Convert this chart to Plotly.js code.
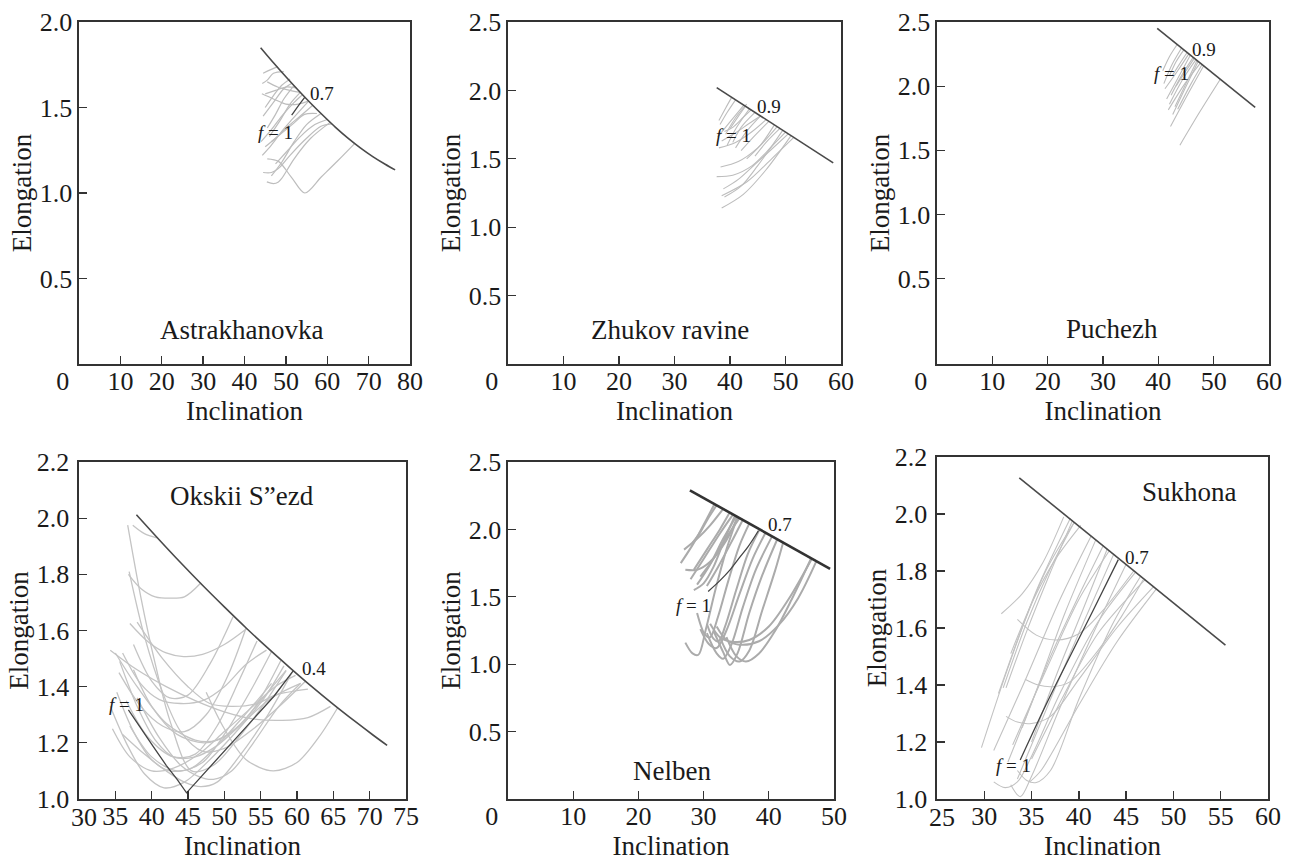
<!DOCTYPE html>
<html>
<head>
<meta charset="utf-8">
<script src="https://cdn.plot.ly/plotly-3.0.1.min.js"></script>
<style>html,body{margin:0;padding:0;background:#fff;}#chart{width:1292px;height:863px;}</style>
</head>
<body>
<div id="chart"></div>
<script>
// ---------------- DATA ----------------
const panelNames = ['Astrakhanovka', 'Zhukov ravine', 'Puchezh', 'Okskii S\u201Dezd', 'Nelben', 'Sukhona'];
const envLabels = ['0.7', '0.9', '0.9', '0.4', '0.7', '0.7'];

// Astrakhanovka
const astraEnvX = [43.9, 47, 50, 53, 56, 59, 62, 65, 68, 71, 74, 76.4];
const astraEnvY = [1.85, 1.762, 1.680, 1.601, 1.525, 1.453, 1.384, 1.321, 1.264, 1.213, 1.168, 1.135];
const astraCurvesX = [
  [44.5, 46.2, 48.0], [45, 47.5, 50, 52.5], [44.5, 47, 49.5, 51.5], [45.5, 47.5, 49.5, 52],
  [44, 46.5, 49, 52, 54], [46, 48.5, 51, 53.5], [44.3, 46.5, 49, 51.5, 55.5], [45, 47.5, 50.5, 53.5, 56.5],
  [46.5, 49, 52, 54.5, 57.5], [44.2, 47, 50, 53, 55.5], [45.5, 48, 51, 53.5],
  [44.5, 46.5, 48.5, 51, 55, 58.5, 61.1], [45.4, 47.0, 48.2, 49.0, 52, 56, 60.7],
  [45.5, 48.2, 51.4, 54.6, 58.6, 62.6, 66.6], [46.5, 49, 52, 55, 58.5], [47.5, 50.5, 53.5, 57, 60],
  [45, 47, 49, 51], [44.3, 45.5, 47, 49.5]
];
const astraCurvesY = [
  [1.70, 1.72, 1.739], [1.58, 1.60, 1.62, 1.614], [1.45, 1.53, 1.61, 1.642], [1.38, 1.46, 1.55, 1.63],
  [1.30, 1.37, 1.45, 1.53, 1.575], [1.33, 1.42, 1.52, 1.588], [1.22, 1.28, 1.36, 1.43, 1.537], [1.27, 1.32, 1.39, 1.45, 1.513],
  [1.30, 1.35, 1.41, 1.46, 1.465], [1.58, 1.55, 1.52, 1.52, 1.537], [1.65, 1.62, 1.60, 1.588],
  [1.12, 1.12, 1.15, 1.22, 1.32, 1.39, 1.404], [1.065, 1.055, 1.065, 1.085, 1.20, 1.32, 1.413],
  [1.20, 1.185, 1.09, 1.0, 1.095, 1.19, 1.289], [1.10, 1.18, 1.30, 1.40, 1.465], [1.17, 1.25, 1.33, 1.40, 1.43],
  [1.50, 1.57, 1.63, 1.667], [1.64, 1.66, 1.70, 1.71]
];
const astraDarkX = [51.4, 53, 54.6];
const astraDarkY = [1.455, 1.51, 1.561];

// Zhukov ravine
const zhukEnvX = [37.6, 58.6];
const zhukEnvY = [2.02, 1.47];
const zhukCurvesX = [
  [38.5, 42.4, 46.5, 51.0], [38.5, 43, 47.5, 51.5], [37.6, 40.5, 44, 47.5, 50.0], [38.3, 41.5, 45, 48.5],
  [39.0, 42, 45, 49.5], [38.0, 41, 44, 46.5], [38.5, 41, 43.5, 45.5], [37.8, 40, 42.5],
  [38.2, 39.5, 41], [38.0, 39.2, 40.3], [39.5, 41.2, 43.5], [40.5, 42, 44.5],
  [41, 43, 45.5], [42, 44, 47], [39, 40.5, 42.3, 43.8], [43, 45.5, 48], [38.8, 41.5, 44.5, 47.5, 50.5],
  [40, 41.5, 42.8], [39.2, 41, 43], [44.5, 46.5, 49]
];
const zhukCurvesY = [
  [1.14, 1.24, 1.42, 1.669], [1.23, 1.33, 1.50, 1.656], [1.37, 1.38, 1.45, 1.59, 1.695], [1.44, 1.48, 1.58, 1.735],
  [1.22, 1.30, 1.45, 1.708], [1.58, 1.62, 1.70, 1.787], [1.63, 1.69, 1.76, 1.813], [1.66, 1.77, 1.892],
  [1.75, 1.84, 1.931], [1.78, 1.87, 1.949], [1.60, 1.73, 1.866], [1.62, 1.73, 1.839],
  [1.58, 1.70, 1.813], [1.56, 1.65, 1.774], [1.70, 1.73, 1.80, 1.858], [1.50, 1.60, 1.748], [1.28, 1.35, 1.46, 1.57, 1.682],
  [1.72, 1.81, 1.884], [1.68, 1.80, 1.90], [1.52, 1.62, 1.722]
];
const zhukDarkX = [];
const zhukDarkY = [];

// Puchezh
const puchEnvX = [39.8, 57.5];
const puchEnvY = [2.45, 1.835];
const puchCurvesX = [
  [43.9, 47.5, 51.2], [42.2, 45.5, 48.2], [41.8, 44.8, 47.6], [42.0, 44.5, 46.8], [41.2, 43.5, 45.5],
  [42.3, 44.3, 46.3], [41.0, 42.5, 44.2], [43, 45, 47], [42.6, 44.8, 47.2], [43.5, 45.8, 47.9],
  [42.0, 43.2, 44.6], [40.8, 42.0, 43.4], [43.2, 45, 46.5], [42.5, 43.8, 45.2], [41.5, 43.5, 45.8]
];
const puchCurvesY = [
  [1.54, 1.80, 2.054], [1.685, 1.95, 2.159], [1.815, 2.02, 2.18], [1.86, 2.06, 2.207], [1.98, 2.12, 2.252],
  [1.93, 2.09, 2.224], [2.02, 2.17, 2.297], [1.84, 2.02, 2.20], [1.78, 1.98, 2.193], [1.82, 2.01, 2.169],
  [2.08, 2.19, 2.283], [2.12, 2.23, 2.325], [2.0, 2.12, 2.217], [2.08, 2.17, 2.262], [1.90, 2.06, 2.243]
];
const puchDarkX = [];
const puchDarkY = [];

// Okskii S"ezd
const oksEnvX = [37.9, 41, 44, 47, 50, 53, 56, 59, 62, 65, 68, 70.5, 72.4];
const oksEnvY = [2.012, 1.924, 1.841, 1.761, 1.684, 1.609, 1.537, 1.468, 1.401, 1.337, 1.276, 1.227, 1.191];
const oksCurvesX = [
  [37.4, 39.0, 40.7],
  [36.8, 38.5, 40.5, 42.5, 44.5, 46.8],
  [37.0, 39.5, 42, 44.4, 47, 50, 53.1],
  [36.7, 38.5, 40.5, 42.5, 45.5, 48.5, 52, 55.5, 58.5],
  [36.9, 39, 41.5, 44, 47, 50, 54, 58, 61.2],
  [34.3, 38, 42, 46, 50, 54, 58, 61.5, 64.6],
  [47.5, 50, 53, 56.7, 60, 63, 65.6],
  [34.3, 36.5, 39, 41.7, 44.5, 48, 52, 55.5, 58.2],
  [34.6, 37, 40, 43, 46.5, 50, 53.5, 57, 59.8],
  [35.6, 38, 40.5, 43, 46, 49, 52.5, 56.5, 60.5],
  [35, 38, 42, 46, 49, 52, 55, 58.5],
  [37.5, 40, 43.5, 47.3, 50.5, 54, 57.8],
  [35.2, 37.5, 40, 42.5, 45.5, 49, 52.5, 56.5],
  [36, 39, 42, 44.5, 46.8, 49, 52, 56, 59.3],
  [38, 41, 44, 46.5, 48.5, 51, 54, 57.5, 60.5],
  [36, 38.5, 41, 44, 47, 50, 53, 55.8],
  [38, 41.5, 45, 48, 51, 54.5, 57, 61.5],
  [37.5, 40, 42.5, 45, 48, 51.2],
  [35.5, 38.5, 41.5, 44.5, 47.5, 50.5, 53.0],
  [36.5, 39.5, 43, 46, 49, 52, 54.5],
  [37, 40, 43.5, 47, 50, 53.5, 56.5]
];
const oksCurvesY = [
  [1.975, 1.945, 1.93],
  [1.80, 1.75, 1.72, 1.715, 1.72, 1.770],
  [1.625, 1.56, 1.52, 1.507, 1.515, 1.55, 1.607],
  [1.975, 1.72, 1.48, 1.28, 1.10, 1.12, 1.22, 1.34, 1.457],
  [1.81, 1.58, 1.38, 1.24, 1.17, 1.18, 1.25, 1.34, 1.42],
  [1.53, 1.46, 1.40, 1.35, 1.31, 1.285, 1.28, 1.29, 1.33],
  [1.38, 1.25, 1.14, 1.10, 1.13, 1.22, 1.325],
  [1.33, 1.20, 1.09, 1.04, 1.06, 1.14, 1.25, 1.36, 1.474],
  [1.25, 1.15, 1.10, 1.11, 1.16, 1.24, 1.32, 1.40, 1.44],
  [1.49, 1.33, 1.21, 1.15, 1.15, 1.19, 1.27, 1.36, 1.412],
  [1.52, 1.40, 1.27, 1.21, 1.21, 1.26, 1.35, 1.458],
  [1.46, 1.33, 1.23, 1.20, 1.23, 1.32, 1.494],
  [1.38, 1.24, 1.14, 1.10, 1.11, 1.19, 1.29, 1.412],
  [1.23, 1.16, 1.10, 1.06, 1.044, 1.06, 1.15, 1.30, 1.45],
  [1.36, 1.22, 1.12, 1.08, 1.07, 1.10, 1.20, 1.33, 1.412],
  [1.52, 1.41, 1.355, 1.34, 1.35, 1.40, 1.48, 1.53],
  [1.63, 1.50, 1.40, 1.34, 1.33, 1.34, 1.37, 1.391],
  [1.55, 1.42, 1.36, 1.37, 1.48, 1.649],
  [1.45, 1.33, 1.26, 1.24, 1.30, 1.44, 1.610],
  [1.35, 1.22, 1.15, 1.16, 1.26, 1.42, 1.563],
  [1.26, 1.15, 1.10, 1.13, 1.23, 1.38, 1.525]
];
const oksDarkX = [36.8, 38.5, 40.2, 42, 43.5, 44.8, 48.5, 53.1, 56.8, 59.5];
const oksDarkY = [1.317, 1.25, 1.187, 1.12, 1.07, 1.022, 1.127, 1.258, 1.365, 1.457];

// Nelben
const nelEnvX = [27.9, 49.4];
const nelEnvY = [2.29, 1.707];
const nelCurvesX = [
  [26.5, 28.5, 30.5, 31.7], [27.0, 29.0, 31.0, 33.0], [28.0, 30.0, 32.5, 34.5], [28.5, 30.5, 32.5, 34.0],
  [29.0, 31.0, 33.0, 35.0], [29.5, 31.5, 33.5, 35.5], [28.3, 29.5, 30.8, 32.0], [30.5, 32.2, 34.2, 36.0],
  [27.2, 28.3, 29.2, 30.3, 31.8, 33.5, 35.2], [29.0, 30.2, 31.0, 32.2, 33.8, 35.5, 37.0],
  [30.5, 31.5, 32.3, 33.3, 35.0, 36.8, 38.6], [29.5, 30.8, 32, 33.5, 35.5, 37.5, 39.5],
  [30.5, 32, 33, 34.3, 36, 38, 40.5], [31.5, 33, 34.05, 35.2, 37, 39, 41.3],
  [32.5, 34, 35.5, 37, 39, 41, 42.2], [31.0, 32.5, 34.3, 37, 40, 43, 46.6],
  [32.0, 33.5, 35.5, 38.5, 41.5, 44.5, 47.3], [33.5, 35, 36.5, 38.5, 41, 43.5, 46.5],
  [27.2, 29.0, 31.0, 33.5, 35.2], [28.5, 30.0, 31.5, 33.0, 34.8]
];
const nelCurvesY = [
  [1.75, 1.90, 2.08, 2.19], [1.85, 1.93, 2.03, 2.152], [1.63, 1.78, 1.97, 2.11], [1.70, 1.85, 2.00, 2.125],
  [1.59, 1.74, 1.93, 2.098], [1.65, 1.78, 1.94, 2.084], [1.90, 1.98, 2.09, 2.179], [1.58, 1.72, 1.90, 2.07],
  [1.16, 1.08, 1.07, 1.25, 1.55, 1.85, 2.092], [1.38, 1.22, 1.20, 1.35, 1.62, 1.88, 2.043],
  [1.30, 1.19, 1.17, 1.28, 1.55, 1.82, 2.0], [1.26, 1.15, 1.12, 1.25, 1.52, 1.78, 1.975],
  [1.23, 1.08, 1.04, 1.15, 1.42, 1.70, 1.948], [1.25, 1.09, 0.994, 1.08, 1.38, 1.66, 1.927],
  [1.20, 1.06, 1.02, 1.10, 1.40, 1.70, 1.903], [1.30, 1.20, 1.167, 1.18, 1.28, 1.48, 1.783],
  [1.28, 1.18, 1.145, 1.17, 1.29, 1.49, 1.764], [1.20, 1.06, 1.02, 1.08, 1.25, 1.48, 1.786],
  [1.70, 1.70, 1.76, 1.92, 2.09], [1.55, 1.60, 1.72, 1.90, 2.10]
];
const nelDarkX = [30.7, 32.5, 34.05, 35.5, 36.8, 38.4];
const nelDarkY = [1.54, 1.62, 1.70, 1.79, 1.87, 1.99];

// Sukhona
const sukEnvX = [33.7, 55.5];
const sukEnvY = [2.127, 1.54];
const sukCurvesX = [
  [31.8, 34, 36.2, 38.4], [33.5, 35.5, 37.6, 40, 42.5, 45.8], [34.3, 35.7, 37.2, 39, 42, 44.5, 46.8],
  [32.3, 33.5, 35.0, 37, 40, 44, 47.9], [29.7, 32.5, 35.5, 39.1], [31.5, 34, 36.5, 39.5],
  [32.0, 34.5, 37, 39.5], [32.8, 35.2, 37.5, 40.2], [31.0, 34.5, 38, 41.3], [32.5, 35.5, 38.5, 41.8],
  [33.0, 36.5, 40, 43.2], [33.5, 37, 40.5, 43.7], [32.8, 33.8, 35, 38, 41.5, 45],
  [33.5, 34.5, 35.5, 37, 40, 43.5, 46.5], [31.0, 32.2, 33.5, 35, 38, 42, 46],
  [35, 38.5, 42, 47], [34.8, 36, 40, 44, 48.2], [32.3, 34.5, 36.8, 39.3],
  [34.0, 37, 39.8, 42.6], [35.0, 37.8, 40.5, 43.0]
];
const sukCurvesY = [
  [1.65, 1.72, 1.83, 1.99], [1.63, 1.575, 1.558, 1.58, 1.66, 1.80], [1.42, 1.40, 1.394, 1.41, 1.52, 1.64, 1.769],
  [1.29, 1.27, 1.265, 1.29, 1.42, 1.60, 1.745], [1.18, 1.46, 1.73, 1.985], [1.37, 1.60, 1.80, 1.97],
  [1.39, 1.62, 1.81, 1.97], [1.51, 1.70, 1.84, 1.96], [1.17, 1.43, 1.70, 1.923], [1.13, 1.38, 1.65, 1.91],
  [1.19, 1.45, 1.70, 1.87], [1.07, 1.35, 1.62, 1.86], [1.05, 1.008, 1.08, 1.32, 1.58, 1.824],
  [1.10, 1.065, 1.058, 1.10, 1.35, 1.61, 1.78], [1.06, 1.04, 1.06, 1.15, 1.37, 1.62, 1.796],
  [1.14, 1.37, 1.58, 1.77], [1.06, 1.10, 1.33, 1.55, 1.737], [1.39, 1.59, 1.78, 1.975],
  [1.25, 1.50, 1.70, 1.89], [1.20, 1.45, 1.67, 1.877]
];
const sukDarkX = [33.8, 36.6, 39.06, 41.53, 44.17];
const sukDarkY = [1.137, 1.336, 1.50, 1.663, 1.84];

// Axis ranges and ticks
const xRanges = [[0, 80], [0, 60], [0, 60], [30, 75], [0, 50], [25, 60]];
const yRanges = [[0, 2.0], [0, 2.5], [-0.165, 2.5], [1.0, 2.2], [0, 2.5], [1.0, 2.2]];
const xTicks = [
  [0, 10, 20, 30, 40, 50, 60, 70, 80], [0, 10, 20, 30, 40, 50, 60], [0, 10, 20, 30, 40, 50, 60],
  [30, 35, 40, 45, 50, 55, 60, 65, 70, 75], [0, 10, 20, 30, 40, 50], [25, 30, 35, 40, 45, 50, 55, 60]
];
const yTicks = [
  [0.5, 1.0, 1.5, 2.0], [0.5, 1.0, 1.5, 2.0, 2.5], [0.5, 1.0, 1.5, 2.0, 2.5],
  [1.0, 1.2, 1.4, 1.6, 1.8, 2.0, 2.2], [0.5, 1.0, 1.5, 2.0, 2.5], [1.0, 1.2, 1.4, 1.6, 1.8, 2.0, 2.2]
];

// ---------------- BUILD ----------------
const FONT = 'Liberation Serif, serif';
const panels = [
  {env: [astraEnvX, astraEnvY], cx: astraCurvesX, cy: astraCurvesY, dark: [astraDarkX, astraDarkY]},
  {env: [zhukEnvX, zhukEnvY], cx: zhukCurvesX, cy: zhukCurvesY, dark: [zhukDarkX, zhukDarkY]},
  {env: [puchEnvX, puchEnvY], cx: puchCurvesX, cy: puchCurvesY, dark: [puchDarkX, puchDarkY]},
  {env: [oksEnvX, oksEnvY], cx: oksCurvesX, cy: oksCurvesY, dark: [oksDarkX, oksDarkY]},
  {env: [nelEnvX, nelEnvY], cx: nelCurvesX, cy: nelCurvesY, dark: [nelDarkX, nelDarkY]},
  {env: [sukEnvX, sukEnvY], cx: sukCurvesX, cy: sukCurvesY, dark: [sukDarkX, sukDarkY]}
];
const styles = [
  {gray: '#bdbdbd', gw: 1.2, env: '#4a4a4a', ew: 1.6, darkShape: 'spline'},
  {gray: '#bdbdbd', gw: 1.1, env: '#4a4a4a', ew: 1.6, darkShape: 'spline'},
  {gray: '#bdbdbd', gw: 1.1, env: '#4a4a4a', ew: 1.6, darkShape: 'spline'},
  {gray: '#c4c4c4', gw: 1.3, env: '#4a4a4a', ew: 1.6, darkShape: 'linear'},
  {gray: '#ababab', gw: 2.0, env: '#333333', ew: 2.6, darkShape: 'spline'},
  {gray: '#c2c2c2', gw: 1.1, env: '#4a4a4a', ew: 1.6, darkShape: 'spline'}
];

const xDomains = [[79, 410], [508, 841], [937, 1269], [79, 406], [508, 834], [937, 1268]];
const yDomains = [[22, 364], [22, 364], [22, 364], [462, 799], [462, 799], [457, 799]];
// panels whose first x label sits at the corner with the lowest y label
const cornerPanels = [3, 5];
const W = 1292, H = 863;

const traces = [];
const layout = {
  width: W, height: H,
  margin: {l: 0, r: 0, t: 0, b: 0},
  paper_bgcolor: '#fff', plot_bgcolor: '#fff',
  showlegend: false,
  annotations: []
};

const nbsp = '\u00a0\u00a0\u00a0\u00a0\u00a0';
const TICKSIZE = 26;

panels.forEach((p, i) => {
  const k = i + 1;
  const xa = k === 1 ? 'x' : 'x' + k;
  const ya = k === 1 ? 'y' : 'y' + k;
  const st = styles[i];
  p.cx.forEach((cx, j) => {
    traces.push({type: 'scatter', mode: 'lines', x: cx, y: p.cy[j], xaxis: xa, yaxis: ya,
      line: {color: st.gray, width: st.gw, shape: 'spline', smoothing: 0.9}, hoverinfo: 'skip'});
  });
  if (p.dark[0].length) {
    traces.push({type: 'scatter', mode: 'lines', x: p.dark[0], y: p.dark[1], xaxis: xa, yaxis: ya,
      line: {color: '#444', width: 1.3, shape: st.darkShape}, hoverinfo: 'skip'});
  }
  traces.push({type: 'scatter', mode: 'lines', x: p.env[0], y: p.env[1], xaxis: xa, yaxis: ya,
    line: {color: st.env, width: st.ew, shape: 'spline', smoothing: 1}, hoverinfo: 'skip'});

  const corner = cornerPanels.includes(i);
  const xt = xTicks[i];
  const xtt = xt.map((v, n) => (v === 0 ? '0' + nbsp : (corner && n === 0 ? '' : String(v))));
  const ytt = yTicks[i].map(v => v.toFixed(1));
  const common = {
    tickmode: 'array', ticks: 'inside', ticklen: 8, tickwidth: 1.3, tickcolor: '#333',
    showline: true, linecolor: '#333', linewidth: 1.6, mirror: true,
    showgrid: false, zeroline: false, automargin: false, fixedrange: true,
    tickfont: {family: FONT, size: TICKSIZE, color: '#1a1a1a'}
  };
  layout['xaxis' + (k === 1 ? '' : k)] = Object.assign({}, common, {
    domain: [xDomains[i][0] / W, xDomains[i][1] / W], range: xRanges[i], anchor: ya,
    tickvals: xt, ticktext: xtt, ticklabelstandoff: -7,
    title: {text: 'Inclination', font: {family: FONT, size: 27, color: '#1a1a1a'}, standoff: 3}
  });
  layout['yaxis' + (k === 1 ? '' : k)] = Object.assign({}, common, {
    domain: [1 - yDomains[i][1] / H, 1 - yDomains[i][0] / H], range: yRanges[i], anchor: xa,
    tickvals: yTicks[i], ticktext: ytt, ticklabelstandoff: corner ? 3 : 0,
    title: {text: 'Elongation', font: {family: FONT, size: 27, color: '#1a1a1a'}, standoff: 0}
  });
  if (corner) {
    // first x tick label drawn just right of the lowest y label so the two do not collide
    layout.annotations.push({xref: xa, yref: ya + ' domain', x: xt[0], y: 0, text: String(xt[0]),
      showarrow: false, xanchor: 'left', yanchor: 'top', xshift: -9, yshift: -3, borderpad: 0,
      font: {family: FONT, size: TICKSIZE, color: '#1a1a1a'}});
  }
});

// Text labels inside panels
const nameAt = [[39.3, 0.20], [29.2, 0.25], [31.6, 0.107], [52.4, 2.08], [25.1, 0.21], [51.7, 2.078]];
const envLabelAt = [[58.7, 1.58], [47.0, 1.886], [48.3, 2.287], [62.4, 1.466], [41.7, 2.038], [46.2, 1.848]];
const fAt = [[47.6, 1.355], [40.7, 1.67], [42.4, 2.10], [36.5, 1.335], [28.4, 1.432], [33.07, 1.116]];
for (let i = 0; i < 6; i++) {
  const k = i + 1;
  const xr = k === 1 ? 'x' : 'x' + k;
  const yr = k === 1 ? 'y' : 'y' + k;
  layout.annotations.push({xref: xr, yref: yr, x: nameAt[i][0], y: nameAt[i][1], text: panelNames[i],
    showarrow: false, font: {family: FONT, size: 27, color: '#1a1a1a'}, xanchor: 'center', yanchor: 'middle'});
  layout.annotations.push({xref: xr, yref: yr, x: envLabelAt[i][0], y: envLabelAt[i][1], text: envLabels[i],
    showarrow: false, font: {family: FONT, size: 19, color: '#1a1a1a'}, xanchor: 'center', yanchor: 'middle'});
  layout.annotations.push({xref: xr, yref: yr, x: fAt[i][0], y: fAt[i][1], text: '<i>f</i> = 1',
    showarrow: false, font: {family: FONT, size: 19, color: '#1a1a1a'}, xanchor: 'center', yanchor: 'middle'});
}

Plotly.newPlot('chart', traces, layout, {displayModeBar: false, staticPlot: true});
</script>
</body>
</html>
